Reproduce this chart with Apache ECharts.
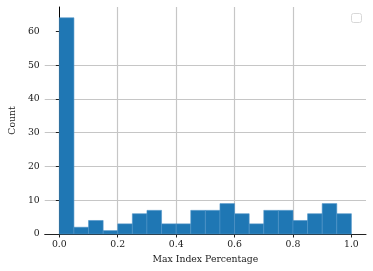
<!DOCTYPE html>
<html>
<head>
<meta charset="utf-8">
<script src="https://cdn.jsdelivr.net/npm/echarts@6/dist/echarts.min.js"></script>
<style>
html,body{margin:0;padding:0;background:#fff;}
#chart{width:373px;height:271px;}
</style>
</head>
<body>
<div id="chart"></div>
<script>
const binEdges = [0.00,0.05,0.10,0.15,0.20,0.25,0.30,0.35,0.40,0.45,0.50,0.55,0.60,0.65,0.70,0.75,0.80,0.85,0.90,0.95,1.00];
const counts = [64,2,4,1,3,6,7,3,3,7,7,9,6,3,7,7,4,6,9,6];
const xTicks = [0,0.2,0.4,0.6,0.8,1.0];
const yTicks = [0,10,20,30,40,50,60];
const xLabel = 'Max Index Percentage';
const yLabel = 'Count';

const barData = counts.map((c, i) => [binEdges[i], binEdges[i + 1], c]);
const font = 'DejaVu Serif';

const chart = echarts.init(document.getElementById('chart'), null, {renderer: 'canvas'});
chart.setOption({
  animation: false,
  grid: {left: 39, right: 7, top: 7, bottom: 37, containLabel: false},
  xAxis: {
    type: 'value', min: -0.05, max: 1.05,
    name: xLabel, nameLocation: 'middle', nameGap: 21,
    nameTextStyle: {fontFamily: font, fontSize: 9.3, color: '#1a1a1a'},
    axisLine: {show: true, onZero: false, lineStyle: {color: '#222', width: 1}},
    axisTick: {show: true, customValues: xTicks, length: 3.5, lineStyle: {color: '#222'}},
    axisLabel: {customValues: xTicks, fontFamily: font, fontSize: 9.3, color: '#1a1a1a', margin: 6,
      formatter: v => v.toFixed(1)},
    splitLine: {show: true, showMinLine: false, showMaxLine: false, lineStyle: {color: '#c6c6c6', width: 1.2}}
  },
  yAxis: {
    type: 'value', min: 0, max: 67.2, interval: 10,
    name: yLabel, nameLocation: 'middle', nameGap: 27, nameRotate: 90,
    nameTextStyle: {fontFamily: font, fontSize: 9.3, color: '#1a1a1a'},
    axisLine: {show: true, lineStyle: {color: '#000', width: 1}},
    axisTick: {show: true, customValues: yTicks, length: 3.5, lineStyle: {color: '#222'}},
    axisLabel: {customValues: yTicks, fontFamily: font, fontSize: 9.3, color: '#1a1a1a', margin: 5},
    splitLine: {show: true, showMaxLine: false, lineStyle: {color: '#c6c6c6', width: 1.2}}
  },
  graphic: [{
    type: 'rect', right: 11, top: 13, z: 100,
    shape: {width: 10, height: 9, r: 2},
    style: {fill: 'rgba(255,255,255,0.8)', stroke: '#d8d8d8', lineWidth: 1}
  }],
  series: [{
    type: 'custom',
    data: barData,
    encode: {x: [0, 1], y: 2},
    renderItem: function (params, api) {
      const p0 = api.coord([api.value(0), api.value(2)]);
      const p1 = api.coord([api.value(1), 0]);
      return {
        type: 'rect',
        shape: {x: p0[0], y: p0[1], width: p1[0] - p0[0], height: p1[1] - p0[1]},
        style: {fill: '#1f77b4', stroke: '#4f94c8', lineWidth: 0.6}
      };
    }
  }]
});
</script>
</body>
</html>
